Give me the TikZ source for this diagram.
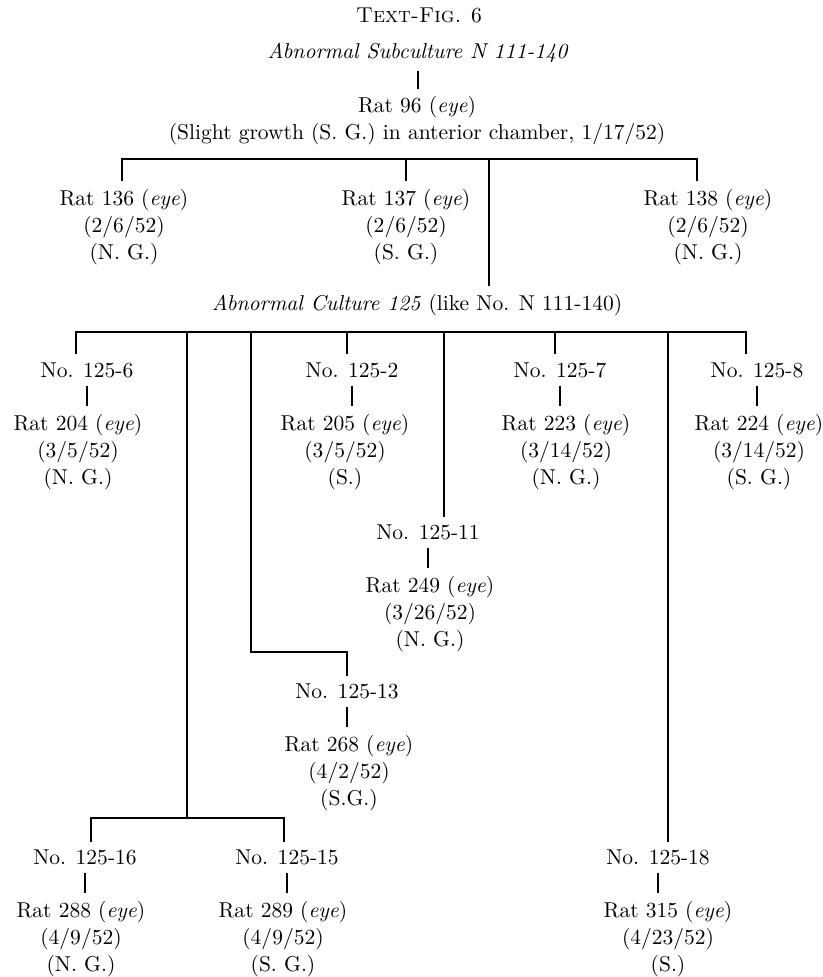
\documentclass[tikz,border=0pt]{standalone}
\usetikzlibrary{positioning}

\begin{document}
\begin{tikzpicture}[x=0.465pt,y=-0.465pt,line width=0.7pt,
		every node/.style={font=\fontsize{10}{12.5}\selectfont},
		rat/.style={align=center}]
		\useasboundingbox (0,0) rectangle (822,977);
		% top of the tree
		\node (title) at (419,15) {\textsc{Text-Fig.} 6};
		\node (sub) at (418,53) {\textit{Abnormal Subculture N 111-140}};
		\node[rat] (r96) at (417,121) {Rat 96 (\textit{eye})\\(Slight growth (S. G.) in anterior chamber, 1/17/52)};
		\draw (sub.south)--(sub.south |- r96.north);
		\node[rat] (r136) at (124,227) {Rat 136 (\textit{eye})\\(2/6/52)\\(N. G.)};
		\node[rat] (r137) at (406,227) {Rat 137 (\textit{eye})\\(2/6/52)\\(S. G.)};
		\node[rat] (r138) at (708,227) {Rat 138 (\textit{eye})\\(2/6/52)\\(N. G.)};
		\node (cul) at (417,305) {\textit{Abnormal Culture 125} (like No. N 111-140)};
		\coordinate (b1l) at (122,159);
		\coordinate (b1r) at (697,159);
		\coordinate (k125) at (489,159);
		\draw (b1l |- r136.north)--(b1l)--(b1r)--(b1r |- r138.north);
		\draw (r137.north |- b1l)--(r137.north);
		\draw (k125)--(k125 |- cul.north);
		% subcultures of 125
		\node (n6) at (87,370) {No. 125-6};
		\node (n2) at (352,370) {No. 125-2};
		\node (n7) at (560,370) {No. 125-7};
		\node (n8) at (757,370) {No. 125-8};
		\node[rat] (r204) at (78,452) {Rat 204 (\textit{eye})\\(3/5/52)\\(N. G.)};
		\node[rat] (r205) at (345,452) {Rat 205 (\textit{eye})\\(3/5/52)\\(S.)};
		\node[rat] (r223) at (566,452) {Rat 223 (\textit{eye})\\(3/14/52)\\(N. G.)};
		\node[rat] (r224) at (759,452) {Rat 224 (\textit{eye})\\(3/14/52)\\(S. G.)};
		\node (n11) at (428,532) {No. 125-11};
		\node[rat] (r249) at (430,614) {Rat 249 (\textit{eye})\\(3/26/52)\\(N. G.)};
		\node (n13) at (347,691) {No. 125-13};
		\node[rat] (r268) at (349,773) {Rat 268 (\textit{eye})\\(4/2/52)\\(S.G.)};
		\node (n16) at (85,857) {No. 125-16};
		\node (n15) at (287,857) {No. 125-15};
		\node (n18) at (658,857) {No. 125-18};
		\node[rat] (r288) at (81,939) {Rat 288 (\textit{eye})\\(4/9/52)\\(N. G.)};
		\node[rat] (r289) at (283,939) {Rat 289 (\textit{eye})\\(4/9/52)\\(S. G.)};
		\node[rat] (r315) at (668,939) {Rat 315 (\textit{eye})\\(4/23/52)\\(S.)};
		\coordinate (b2l) at (76,332);
		\coordinate (b2r) at (746,332);
		\coordinate (k16) at (187,332);
		\coordinate (k13) at (251,332);
		\coordinate (k2) at (347,332);
		\coordinate (k11) at (444,332);
		\coordinate (k7) at (555,332);
		\coordinate (k18) at (668,332);
		\coordinate (e13) at (251,652);
		\coordinate (b3l) at (91,818);
		\coordinate (b3r) at (284,818);
		\draw (b2l |- n6.north)--(b2l)--(b2r)--(b2r |- n8.north);
		\draw (k2)--(k2 |- n2.north);
		\draw (k7)--(k7 |- n7.north);
		\draw (k11)--(k11 |- n11.north);
		\draw (k18)--(k18 |- n18.north);
		\draw (k13)--(e13)-|(n13.north);
		\draw (k16)--(k16 |- b3l);
		\draw (b3l |- n16.north)--(b3l)--(b3r)--(b3r |- n15.north);
		% each number to its rat
		\draw (n6.south)--(n6.south |- r204.north);
		\draw (n2.south)--(n2.south |- r205.north);
		\draw (n7.south)--(n7.south |- r223.north);
		\draw (n8.south)--(n8.south |- r224.north);
		\draw (n11.south)--(n11.south |- r249.north);
		\draw (n13.south)--(n13.south |- r268.north);
		\draw (n16.south)--(n16.south |- r288.north);
		\draw (n15.south)--(n15.south |- r289.north);
		\draw (n18.south)--(n18.south |- r315.north);
\end{tikzpicture}
\end{document}
